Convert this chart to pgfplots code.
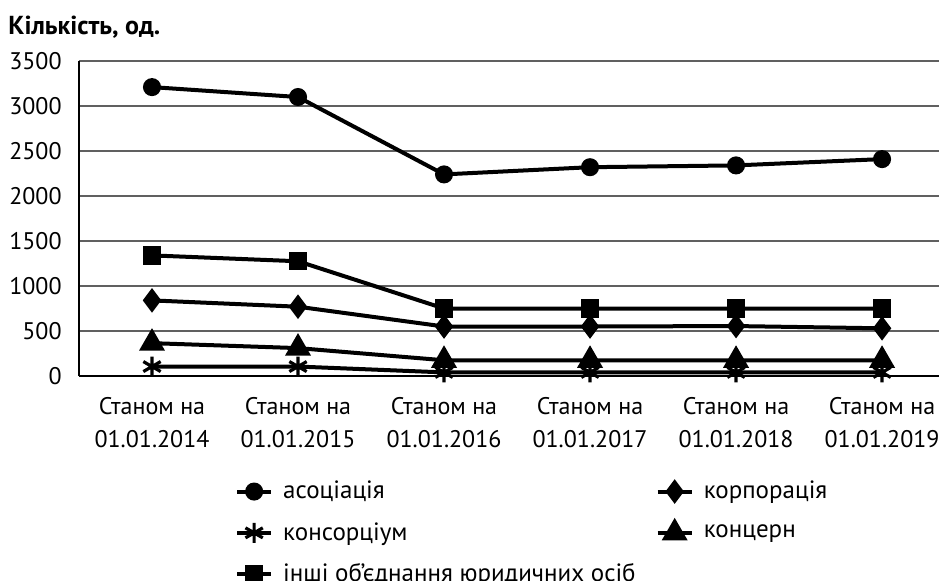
\documentclass[border=0pt]{standalone}
\usepackage{fontspec}
\setmainfont{PT Sans}
\usepackage{pgfplots}
\pgfplotsset{compat=1.18}
\begin{document}
\begin{tikzpicture}
\begin{axis}[
  at={(0,0)}, anchor=south west,
  scale only axis, width=430pt, height=157.5pt,
  xmin=-0.5, xmax=5.39, ymin=0, ymax=3500,
  axis lines=left, axis line style={-, black, line width=0.6pt},
  clip=false,
  ytick={0,500,...,3500},
  xtick={0,1,2,3,4,5},
  xticklabels={{Станом на\\01.01.2014},{Станом на\\01.01.2015},{Станом на\\01.01.2016},{Станом на\\01.01.2017},{Станом на\\01.01.2018},{Станом на\\01.01.2019}},
  major tick length=0pt,
  ymajorgrids, grid style={gray!75!black, line width=0.8pt},
  /pgf/number format/assume math mode=true,
  /pgf/number format/1000 sep={},
  yticklabel style={font=\fontsize{12}{13}\selectfont, anchor=east, inner sep=0pt, xshift=-8.5pt},
  xticklabel style={font=\fontsize{12}{16.5}\selectfont, anchor=north, inner sep=0pt, yshift=-10.5pt, align=center},
  every axis plot/.append style={black, line width=2pt, mark options={solid, fill=black}},
  legend columns=2,
  legend cell align=left,
  legend style={at={(0.181,-0.32)}, anchor=north west, draw=none, fill=none,
    font=\fontsize{12.5}{15}\selectfont, row sep=6.3pt, inner sep=0pt,
    /tikz/every odd column/.append style={column sep=3pt},
    /tikz/every even column/.append style={column sep=8pt}},
]
\addplot[mark=*, mark size=3.5pt] coordinates {(0,3210) (1,3100) (2,2240) (3,2320) (4,2340) (5,2410)};
\addlegendentry{асоціація}
\addplot[mark=diamond*, mark size=4.5pt] coordinates {(0,840) (1,770) (2,550) (3,550) (4,555) (5,530)};
\addlegendentry{корпорація}
\addplot[mark=asterisk, mark size=5pt, mark options={line width=1.6pt}] coordinates {(0,105) (1,105) (2,40) (3,40) (4,40) (5,40)};
\addlegendentry{консорціум}
\addplot[mark=triangle*, mark size=5.5pt] coordinates {(0,365) (1,310) (2,175) (3,175) (4,175) (5,175)};
\addlegendentry{концерн}
\addplot[mark=square*, mark size=3.6pt] coordinates {(0,1340) (1,1275) (2,750) (3,750) (4,750) (5,750)};
\addlegendentry{інші об’єднання юридичних осіб}
\end{axis}
\node[anchor=west, inner sep=0pt, font=\bfseries\fontsize{13}{15}\selectfont] at (-35.5pt,174.5pt) {Кількість, од.};
\pgfresetboundingbox
\path (-39.5pt,-102pt) rectangle (430pt,188pt);
\end{tikzpicture}
\end{document}
